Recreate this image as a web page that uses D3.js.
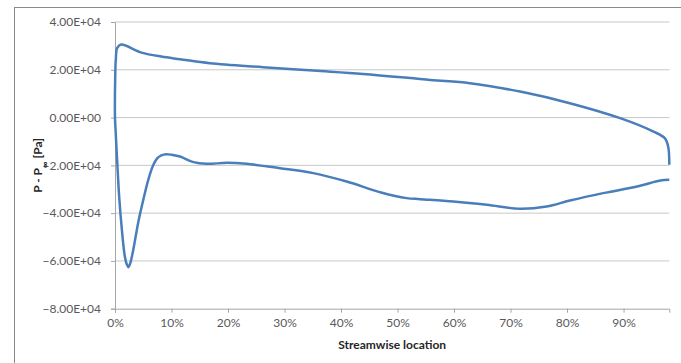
<!DOCTYPE html>
<html>
<head>
<meta charset="utf-8">
<script src="https://cdn.jsdelivr.net/npm/d3@7"></script>
<style>
  html, body { margin: 0; padding: 0; background: #fff; }
  svg { display: block; }
</style>
</head>
<body>
<svg id="chart" width="681" height="363"></svg>
<script>
// Streamwise location (fraction of chord), traced lower surface TE -> LE -> upper surface TE
const streamwise = [
  0.981, 0.965, 0.924, 0.864, 0.805, 0.764, 0.717, 0.658, 0.599, 0.540, 0.516,
  0.471, 0.410, 0.351, 0.292, 0.233, 0.198, 0.162, 0.139, 0.115, 0.101, 0.091, 0.082, 0.075,
  0.067, 0.059, 0.050, 0.041, 0.033, 0.027, 0.024, 0.021, 0.017, 0.012, 0.0075, 0.004, 0.001, 0.000,
  0.0003, 0.0014, 0.004, 0.011, 0.047, 0.082, 0.115, 0.168, 0.262, 0.351,
  0.439, 0.558, 0.628, 0.717, 0.805, 0.894, 0.953, 0.973, 0.979, 0.981
];
// P - P_inf [Pa]
const pressure = [
  -26070, -26360, -28870, -31630, -34730, -37240, -38200, -36530, -35150, -34140, -33720,
  -31380, -26780, -23260, -21170, -19370, -18950, -19370, -18660, -16320, -15600, -15310, -15800, -17000,
  -20300, -26000, -34500, -44000, -54500, -61000, -62600, -61500, -57500, -46500, -33500, -18950, -5150, 0,
  15770, 24140, 29160, 30540, 27200, 25520, 24430, 22760, 21090, 19660,
  18280, 15770, 14390, 10880, 6020, -250, -5860, -8620, -12130, -19790
];
const xTicks = [0, 0.1, 0.2, 0.3, 0.4, 0.5, 0.6, 0.7, 0.8, 0.9];
const yTicks = [-80000, -60000, -40000, -20000, 0, 20000, 40000];
const xDomain = [0, 0.981];
const yDomain = [-80000, 40000];

(function () {
const svg = d3.select("#chart");
const pL = 115, pR = 669.3, pT = 22, pB = 308.7;

// outer chart frame (cropped on right/bottom)
svg.append("rect")
  .attr("x", 14.5).attr("y", 7.5).attr("width", 720).attr("height", 420)
  .attr("fill", "none").attr("stroke", "#8a8a8a").attr("stroke-width", 1);

const x = d3.scaleLinear().domain(xDomain).range([pL, pR]);
const y = d3.scaleLinear().domain(yDomain).range([pB, pT]);

const font = "Lato, 'Open Sans', sans-serif";

// gridlines
svg.append("g").selectAll("line").data(yTicks.filter(d => d !== -80000)).join("line")
  .attr("x1", pL).attr("x2", pR)
  .attr("y1", d => y(d)).attr("y2", d => y(d))
  .attr("stroke", "#c8c8c8").attr("stroke-width", 1);

// y axis
const fmtE = d => {
  const s = d3.format(".2e")(d); // e.g. 4.00e+4
  return s.replace(/e([+-])(\d+)$/, (m, sg, ex) => "E" + sg + ex.padStart(2, "0"));
};
const yAxis = d3.axisLeft(y).tickValues(yTicks).tickSize(4).tickPadding(10).tickFormat(fmtE);
const gy = svg.append("g").attr("transform", `translate(${pL},0)`).call(yAxis);
gy.select(".domain").attr("stroke", "#a6a6a6");
gy.selectAll(".tick line").attr("stroke", "#a6a6a6");
gy.selectAll(".tick text").attr("fill", "#595959").style("font-family", font).style("font-size", "12px");

// x axis
const xAxis = d3.axisBottom(x).tickValues(xTicks).tickSize(4).tickPadding(6)
  .tickFormat(d3.format(".0%"));
const gx = svg.append("g").attr("transform", `translate(0,${pB})`).call(xAxis);
gx.select(".domain").attr("stroke", "#a6a6a6");
gx.selectAll(".tick line").attr("stroke", "#a6a6a6");
gx.selectAll(".tick text").attr("fill", "#595959").style("font-family", font).style("font-size", "12px");

// axis titles
svg.append("text")
  .attr("x", (pL + pR) / 2).attr("y", 349)
  .attr("text-anchor", "middle")
  .style("font-family", font).style("font-size", "12px").style("font-weight", "bold")
  .attr("fill", "#262626")
  .text("Streamwise location");

const yt = svg.append("text")
  .attr("transform", `translate(42,${(pT + pB) / 2}) rotate(-90)`)
  .attr("text-anchor", "middle")
  .style("font-family", font).style("font-size", "12px").style("font-weight", "bold")
  .attr("fill", "#262626");
yt.append("tspan").text("P - P");
yt.append("tspan").attr("baseline-shift", "sub").style("font-size", "9px").text("∞");
yt.append("tspan").text(" [Pa]");

// data line
const pts = streamwise.map((d, i) => [d, pressure[i]]);
const line = d3.line()
  .x(d => x(d[0])).y(d => y(d[1]))
  .curve(d3.curveCatmullRom.alpha(0.5));
svg.append("path")
  .datum(pts)
  .attr("d", line)
  .attr("fill", "none")
  .attr("stroke", "#4a7ebb")
  .attr("stroke-width", 2.5)
  .attr("stroke-linejoin", "round");
})();
</script>
</body>
</html>
